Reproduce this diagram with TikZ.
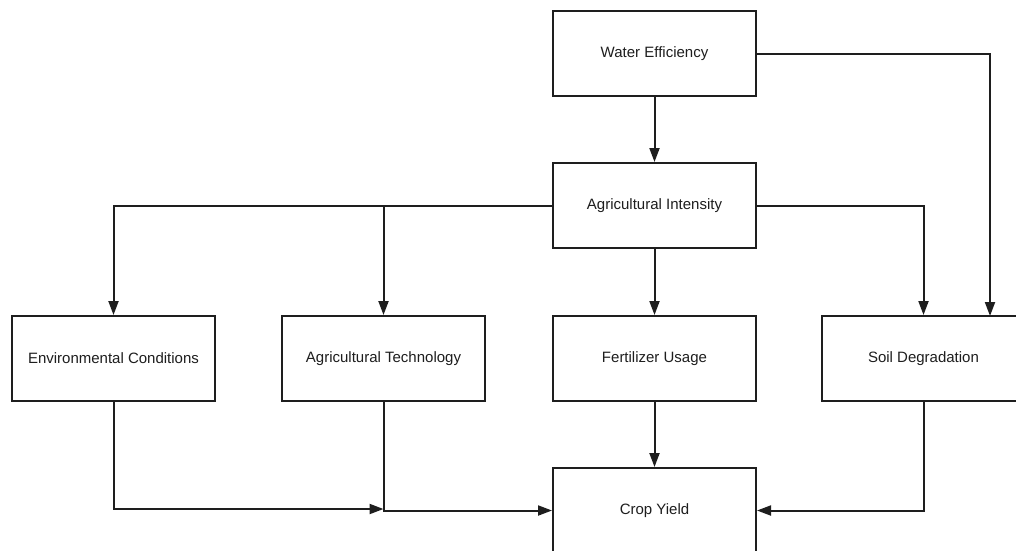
\documentclass[tikz,border=0pt]{standalone}
\usepackage{fontspec}
\setmainfont{Liberation Sans}
\usetikzlibrary{arrows.meta}
\definecolor{ink}{HTML}{1E1E1E}
\begin{document}
\begin{tikzpicture}[x=1pt,y=-1pt,
  factor/.style={draw=ink, line width=2pt, fill=white, minimum width=203pt,
    minimum height=85pt, inner sep=0pt, text=ink,
    font=\fontsize{15}{18}\selectfont},
  link/.style={draw=ink, line width=2pt, -{Triangle[length=14pt,width=10pt]}}]
\useasboundingbox (0,0) rectangle (1016,550);
\clip (0,0) rectangle (1016,550);

% factors
\node[factor] (we)   at (654.5,53.5)  {Water Efficiency};
\node[factor] (ai)   at (654.5,205.5) {Agricultural Intensity};
\node[factor] (env)  at (113.5,358.5) {Environmental Conditions};
\node[factor] (tech) at (383.5,358.5) {Agricultural Technology};
\node[factor] (fert) at (654.5,358.5) {Fertilizer Usage};
\node[factor] (soil) at (923.5,358.5) {Soil Degradation};
\node[factor] (crop) at (654.5,510.5) {Crop Yield};

% free ends
\coordinate (soilin) at (990,316);
\coordinate (envend) at (383.5,509);

% top-down influences
\draw[link] (we.south) -- (ai.north);
\draw[link] (we.east) -| (soilin);
\draw[link] (ai.west) -| (env.north);
\draw[link] (ai.west -| tech.north) -- (tech.north);
\draw[link] (ai.east) -| (soil.north);
\draw[link] (ai.south) -- (fert.north);

% into crop yield
\draw[link] (fert.south) -- (crop.north);
\draw[link] (env.south) |- (envend);
\draw[link] (tech.south) |- (crop.west);
\draw[link] (soil.south) |- (crop.east);
\end{tikzpicture}
\end{document}
